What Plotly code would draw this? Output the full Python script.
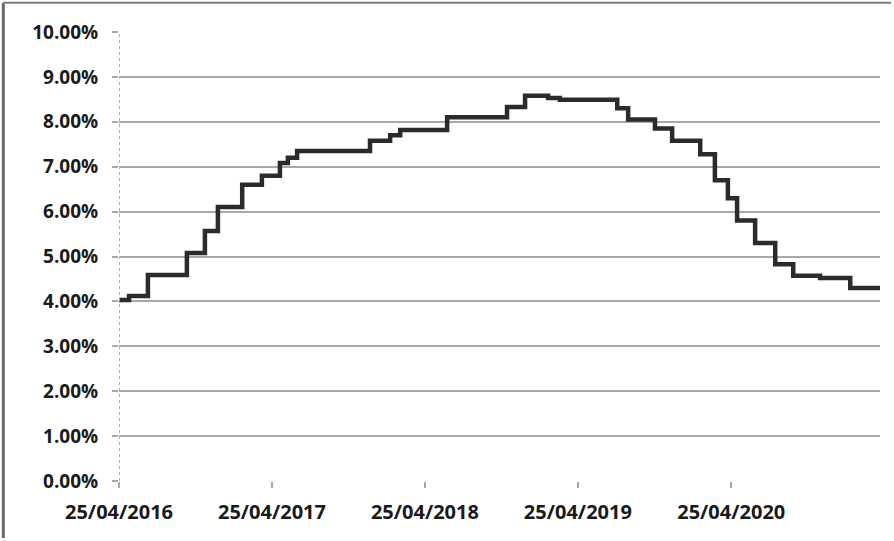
import plotly.graph_objects as go

# Step change dates and rate values
dates = ["2016-04-25", "2016-05-19", "2016-07-03", "2016-10-04", "2016-11-16",
         "2016-12-17", "2017-02-13", "2017-04-01", "2017-05-14", "2017-06-02",
         "2017-06-24", "2017-12-15", "2018-02-01", "2018-02-25", "2018-06-17",
         "2018-11-07", "2018-12-20", "2019-02-13", "2019-03-13", "2019-07-28",
         "2019-08-23", "2019-10-26", "2019-12-06", "2020-02-11", "2020-03-17",
         "2020-04-17", "2020-05-09", "2020-06-21", "2020-08-08", "2020-09-20",
         "2020-11-23", "2021-02-03", "2021-04-20"]
rates = [0.0403, 0.0412, 0.0459, 0.0508, 0.0557,
         0.0610, 0.0660, 0.0680, 0.0708, 0.0720,
         0.0735, 0.0758, 0.0770, 0.0782, 0.0810,
         0.0833, 0.0858, 0.0853, 0.0849, 0.0830,
         0.0805, 0.0785, 0.0758, 0.0728, 0.0670,
         0.0630, 0.0580, 0.0530, 0.0483, 0.0457,
         0.0452, 0.0430, 0.0430]

x_tick_vals = ["2016-04-25", "2017-04-25", "2018-04-25", "2019-04-25", "2020-04-25"]
x_tick_text = ["25/04/2016", "25/04/2017", "25/04/2018", "25/04/2019", "25/04/2020"]
x_range = ["2016-04-25", "2021-04-15"]
y_tick_vals = [i / 100 for i in range(0, 11)]

fig = go.Figure()
fig.add_trace(go.Scatter(
    x=dates, y=rates, mode="lines", line_shape="hv",
    line=dict(color="#2b2b2b", width=4.5), showlegend=False,
))

grid = "#a8a8a8"
fig.update_layout(
    width=894, height=541,
    margin=dict(l=119, r=14, t=32, b=60),
    paper_bgcolor="white", plot_bgcolor="white",
    font=dict(family="Open Sans, Arial, sans-serif", size=20, color="#1a1a1a", weight="bold"),
    xaxis=dict(
        type="date", range=x_range, tickvals=x_tick_vals, ticktext=x_tick_text,
        showgrid=False, zeroline=False, showline=False,
        ticks="outside", ticklen=6, tickcolor=grid, tickwidth=1.5,
        ticklabelstandoff=7,
        tickfont=dict(size=20, weight="bold"),
    ),
    yaxis=dict(
        range=[0, 0.10], tickvals=y_tick_vals, tickformat=".2%",
        showgrid=True, gridcolor=grid, gridwidth=1.5, zeroline=False,
        ticks="outside", ticklen=6, tickcolor=grid, tickwidth=1.5,
        ticklabelstandoff=10,
        tickfont=dict(size=19, weight="bold"),
    ),
    shapes=[
        dict(type="line", xref="x", yref="paper", x0=x_range[0], x1=x_range[0],
             y0=0, y1=1, line=dict(color="#b0b0b0", width=2, dash="dot")),
        dict(type="line", xref="paper", yref="paper", x0=-0.152, x1=-0.152,
             y0=-0.127, y1=1.065, line=dict(color="#6a6a6a", width=3)),
        dict(type="line", xref="paper", yref="paper", x0=-0.152, x1=1.0145,
             y0=1.065, y1=1.065, line=dict(color="#7a7a7a", width=2)),
    ],
)

fig.write_html("out.html", config={"displayModeBar": False},
               post_script="document.body.style.margin='0';document.body.style.overflow='hidden';")
